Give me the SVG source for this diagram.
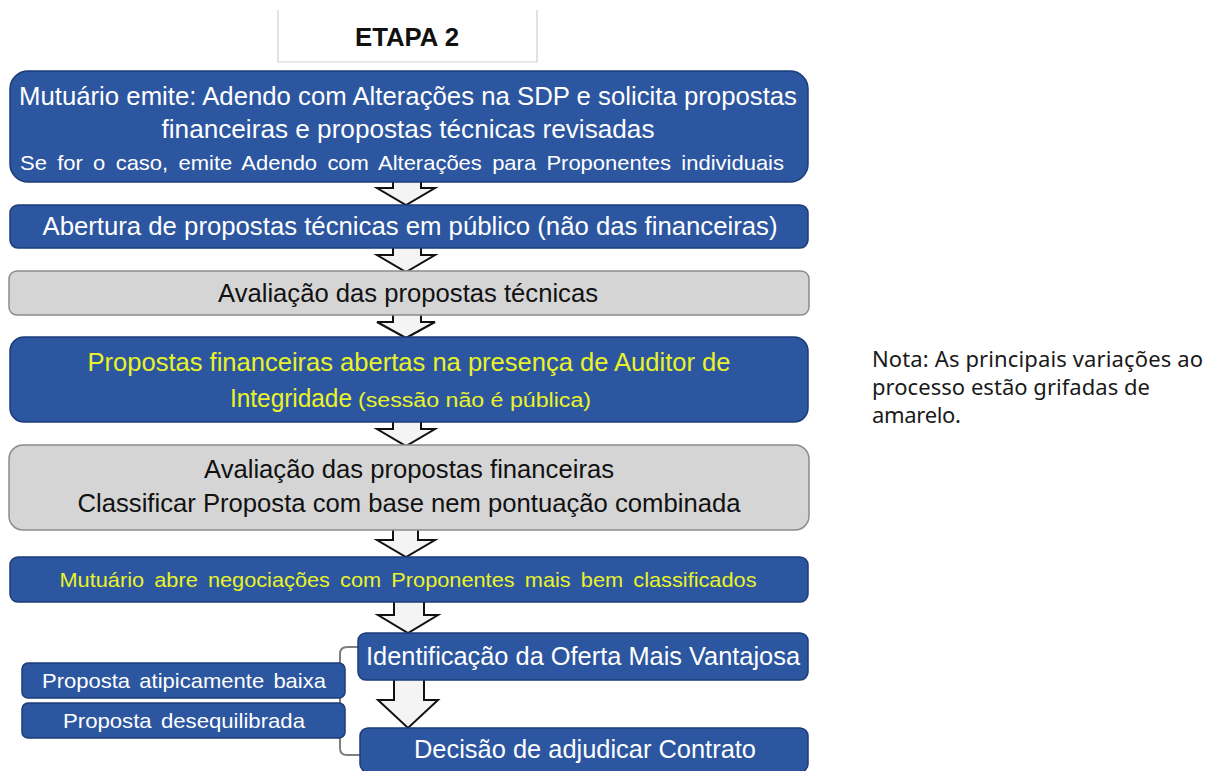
<svg xmlns="http://www.w3.org/2000/svg" width="1209" height="771" viewBox="0 0 1209 771">
<style>
.blue{fill:#2c56a0;stroke:#1c3c78;stroke-width:1.5}
.grey{fill:#d5d5d5;stroke:#8c8c8c;stroke-width:1.5}
.arrow{fill:#f4f4f4;stroke:#111;stroke-width:2;stroke-linejoin:miter}
.w{fill:#ffffff;font-family:"Liberation Sans",Arial,sans-serif}
.y{fill:#eaf22a;font-family:"Liberation Sans",Arial,sans-serif}
.k{fill:#111111;font-family:"Liberation Sans",Arial,sans-serif}
.note{fill:#1a1a1a;font-family:"Noto Sans","Open Sans",sans-serif;font-size:22px}
.br{fill:none;stroke:#7f7f7f;stroke-width:2}
</style>
<rect width="1209" height="771" fill="#ffffff"/>
<g id="title">
<path d="M278,10 V62 H537 V10" fill="#ffffff" stroke="#cfcfcf" stroke-width="1.2"/>
<text x="407" y="46" text-anchor="middle" class="k" font-size="26" font-weight="bold" textLength="104" lengthAdjust="spacingAndGlyphs">ETAPA 2</text>
</g>
<g id="connectors">
<path class="arrow" d="M393,170 V188 H377 L406,205 L435,188 H421 V170"/>
<path class="arrow" d="M393,240 V255 H377 L406,272 L435,255 H421 V240"/>
<path class="arrow" d="M393,305 V322 H377 L406,338 L435,322 H421 V305"/>
<path class="arrow" d="M393,415 V429 H377 L406,446 L435,429 H421 V415"/>
<path class="arrow" d="M393,522 V540 H377 L406,557 L435,540 H418 V522"/>
<path class="arrow" d="M394,595 V615 H378 L408,633 L438,615 H424 V595"/>
<path class="arrow" d="M394,672 V700 H378 L408,728 L438,700 H424 V672"/>
<path class="br" d="M358,647 H347 Q340,647 340,654 V748 Q340,755 347,755 H360"/>
</g>
<g id="n1">
<rect class="blue" x="10" y="71" width="798" height="111" rx="18"/>
<text x="408" y="105" text-anchor="middle" class="w" font-size="25" textLength="778" lengthAdjust="spacingAndGlyphs">Mutuário emite: Adendo com Alterações na SDP e solicita propostas</text>
<text x="408" y="138" text-anchor="middle" class="w" font-size="25" textLength="493" lengthAdjust="spacingAndGlyphs">financeiras e propostas técnicas revisadas</text>
<text x="402" y="170" text-anchor="middle" class="w" font-size="21" word-spacing="4" textLength="764" lengthAdjust="spacingAndGlyphs">Se for o caso, emite Adendo com  Alterações para Proponentes individuais</text>
</g>
<g id="n2">
<rect class="blue" x="10" y="205" width="798" height="43" rx="8"/>
<text x="410" y="235" text-anchor="middle" class="w" font-size="25" textLength="735" lengthAdjust="spacingAndGlyphs">Abertura de propostas técnicas em público (não das financeiras)</text>
</g>
<g id="n3">
<rect class="grey" x="9" y="271" width="800" height="44" rx="8"/>
<text x="408" y="302" text-anchor="middle" class="k" font-size="25" textLength="380" lengthAdjust="spacingAndGlyphs">Avaliação das propostas técnicas</text>
</g>
<g id="n4">
<rect class="blue" x="10" y="337" width="798" height="85" rx="14"/>
<text x="409" y="371" text-anchor="middle" class="y" font-size="25" textLength="643" lengthAdjust="spacingAndGlyphs">Propostas financeiras abertas na presença de Auditor de</text>
<text x="230" y="407" class="y" font-size="25" textLength="122" lengthAdjust="spacingAndGlyphs">Integridade</text>
<text x="358" y="407" class="y" font-size="20" textLength="233" lengthAdjust="spacingAndGlyphs">(sessão não é pública)</text>
</g>
<g id="n5">
<rect class="grey" x="9" y="445" width="800" height="85" rx="14"/>
<text x="409" y="478" text-anchor="middle" class="k" font-size="25" textLength="410" lengthAdjust="spacingAndGlyphs">Avaliação das propostas financeiras</text>
<text x="409" y="512" text-anchor="middle" class="k" font-size="25" textLength="663" lengthAdjust="spacingAndGlyphs">Classificar Proposta com base nem pontuação combinada</text>
</g>
<g id="n6">
<rect class="blue" x="10" y="557" width="798" height="45" rx="8"/>
<text x="408" y="587" text-anchor="middle" class="y" font-size="21" word-spacing="4" textLength="697" lengthAdjust="spacingAndGlyphs">Mutuário abre negociações com Proponentes mais bem classificados</text>
</g>
<g id="n7">
<rect class="blue" x="358" y="633" width="450" height="47" rx="8"/>
<text x="583" y="665" text-anchor="middle" class="w" font-size="25" textLength="434" lengthAdjust="spacingAndGlyphs">Identificação da Oferta Mais Vantajosa</text>
</g>
<g id="n8">
<rect class="blue" x="360" y="728" width="448" height="44" rx="8"/>
<text x="585" y="758" text-anchor="middle" class="w" font-size="25" textLength="342" lengthAdjust="spacingAndGlyphs">Decisão de adjudicar Contrato</text>
</g>
<g id="nA">
<rect class="blue" x="22" y="663" width="323" height="35" rx="6"/>
<text x="184" y="688" text-anchor="middle" class="w" font-size="21" word-spacing="3" textLength="284" lengthAdjust="spacingAndGlyphs">Proposta atipicamente baixa</text>
</g>
<g id="nB">
<rect class="blue" x="22" y="703" width="323" height="35" rx="6"/>
<text x="184" y="728" text-anchor="middle" class="w" font-size="21" word-spacing="3" textLength="242" lengthAdjust="spacingAndGlyphs">Proposta desequilibrada</text>
</g>
<g id="note">
<text x="872" y="367" class="note" textLength="331">Nota: As principais variações ao</text>
<text x="872" y="395" class="note" textLength="278">processo estão grifadas de</text>
<text x="872" y="423" class="note" textLength="89">amarelo.</text>
</g>
</svg>
